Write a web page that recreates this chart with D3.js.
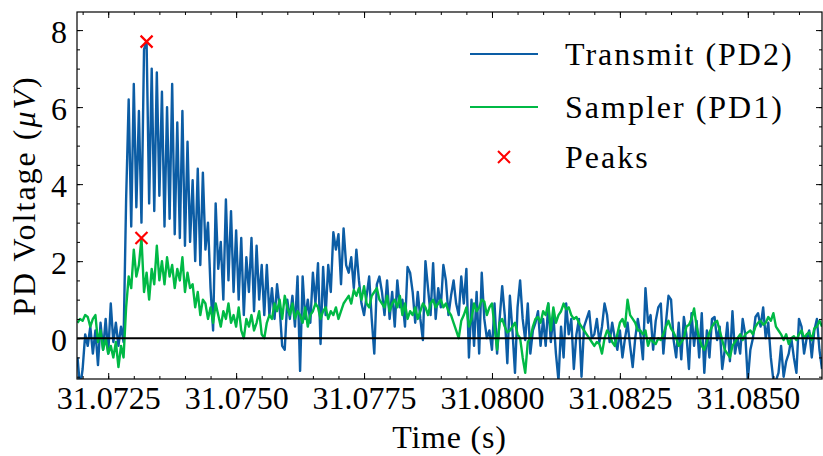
<!DOCTYPE html>
<html>
<head>
<meta charset="utf-8">
<script src="https://cdn.jsdelivr.net/npm/d3@7"></script>
<style>
  body { margin: 0; background: #fff; }
  svg { display: block; }
  text { font-family: "Liberation Serif", "Times New Roman", serif; fill: #000; }
</style>
</head>
<body>
<svg id="chart" width="823" height="456"></svg>
<script>
// Acquisition grid: both photodiodes are sampled on the same clock.
const sampleStart = 31.0719;   // s
const samplePeriod = 5e-5;     // s

// Transmit photodiode (PD2), µV
const transmit = [
  -0.5, -1.3, -0.8, 0.1, -0.2, 0.3, -0.4, 0.2, -0.7, 0.4,
  -0.3, 0.5, -0.4, 0.9, -0.1, 0.4, -0.2, 0.3, -0.1, 3.6,
  6.2, 2.9, 6.6, 3.4, 5.9, 3.0, 7.5, 7.7, 3.5, 7.0,
  3.3, 6.9, 3.7, 6.4, 2.9, 6.0, 3.1, 6.6, 2.7, 5.6,
  2.6, 5.9, 2.4, 5.1, 2.5, 4.1, 2.0, 4.4, 1.9, 4.3,
  2.3, 3.0, 1.3, 0.2, 3.5, 1.8, 2.5, 1.0, 3.6, 1.5,
  3.3, 1.2, 2.8, 1.0, 2.6, 0.6, 2.1, 1.2, 2.6, 0.7,
  2.4, 1.0, 1.9, 0.6, 1.9, 0.6, 1.3, 0.5, 1.4, 0.8,
  -0.2, -0.3, 1.0, 0.5, 1.1, 0.3, 1.6, -0.85, 1.6, 0.5,
  1.0, 0.4, 1.7, 0.9, 1.95, -0.15, 1.85, 0.6, 1.9, 1.2,
  2.75, 2.3, 2.7, 1.4, 2.85, 1.9, 1.7, 2.1, 1.3, 2.3,
  1.5, 0.9, 0.6, 1.1, 1.6, 0.5, -0.4, 1.4, 1.6, 1.2,
  0.6, 1.5, 0.5, 1.2, 0.3, 1.5, 0.8, 1.0, 0.3, 1.85,
  1.7, 1.2, 0.4, 1.2, 0.5, -0.05, 2.0, 1.3, 0.6, 1.95,
  0.5, 1.3, 0.8, 1.9, 1.5, 0.6, 1.1, 1.5, 0.9, 0.6,
  1.6, 0.9, 1.8, -0.5, 1.0, -0.2, 1.2, -0.4, 1.7, 0.5,
  0.0, 0.2, -0.3, 0.9, -0.4, 0.5, 1.35, 0.6, -0.65, 1.1,
  0.2, -0.9, 0.8, 1.5, 0.5, -0.05, 0.9, -0.4, 0.2, 0.4,
  0.7, -0.2, 0.5, -0.2, 0.9, -0.1, 0.6, -0.4, -1.1, 0.3,
  -0.5, 0.9, 0.1, 0.5, -0.8, 0.1, 0.5, -1.0, 0.3, 0.5,
  0.7, 0.0, 0.1, 0.5, -0.1, 0.3, 0.9, 0.6, -0.1, 0.4,
  0.0, -0.3, 0.2, -0.5, 0.0, 0.4, -0.2, -0.75, 0.0, 0.5,
  0.1, -0.55, 1.3, 0.4, 0.6, -0.3, 0.45, 0.8, 0.9, -0.4,
  0.4, 1.1, 1.0, -0.05, -0.5, 0.4, -0.55, 0.55, 0.1, -0.8,
  0.65, -0.2, 0.45, -0.5, 0.65, -0.9, 0.2, -0.5, 0.5, 0.55,
  -0.05, 0.3, -0.8, -0.3, 0.4, -0.6, 0.7, -0.4, 0.0, -0.4,
  0.5, 0.1, -1.1, -0.3, 0.0, 0.55, 0.65, 0.3, 0.8, 0.0,
  0.4, -0.5, -1.1, -1.1, -0.9, -0.2, -1.0, -0.6, -0.4, 0.0,
  -0.5, -0.9, 0.5, 0.3, -0.4, 0.0, 0.2, -0.5, 0.2, 0.5,
  -0.3, -0.8
];

// Sampler photodiode (PD1), µV
const sampler = [
  0.4, 0.5, 0.45, 0.6, 0.55, 0.3, 0.5, 0.6, -0.1, 0.2,
  -0.3, 0.0, -0.4, -0.2, -0.5, -0.1, -0.75, -0.2, -0.5, 0.8,
  1.6, 1.3, 2.3, 1.6, 1.9, 2.6, 1.2, 1.7, 1.0, 1.8,
  1.4, 2.4, 1.5, 2.0, 1.4, 2.1, 1.6, 1.9, 1.3, 1.8,
  1.5, 2.1, 1.2, 1.7, 1.3, 1.4, 0.8, 1.2, 0.6, 1.0,
  0.9, 0.5, 0.8, 0.4, 0.9, 0.6, 0.3, 0.7, 0.5, 0.9,
  0.4, 0.6, 0.3, 0.8, 0.2, 0.0, 0.5, 0.3, 0.6, 0.2,
  0.4, 0.7, 0.1, 0.0, 0.4, 0.6, 0.5, 0.9, 0.7, 1.0,
  0.5, 1.1, 0.8, 0.6, 0.9, 0.5, 0.7, 0.6, 0.4, 0.8,
  0.3, 0.6, 0.7, 0.9, 0.8, 0.5, 0.7, 0.8, 0.5, 0.7,
  0.6, 0.8, 0.5, 0.7, 0.9, 1.0, 1.1, 0.9, 1.25, 1.1,
  1.3, 1.0, 1.35, 0.9, 0.8, 1.1, 1.2, 1.3, 1.0, 0.9,
  0.8, 1.1, 0.7, 0.9, 1.0, 0.8, 1.1, 0.6, 0.9, 0.5,
  0.7, 0.6, 0.8, 0.5, 0.7, 0.9, 0.8, 0.6, 0.9, 1.0,
  0.8, 0.9, 1.0, 0.8, 0.9, 0.7, 0.6, 0.4, 0.2, 0.0,
  0.45, 0.6, 0.8, 0.3, 0.5, 0.9, 0.7, 0.8, 1.0, 0.95,
  0.6, 0.8, 0.9, 0.3, -0.3, 0.4, 0.5, 0.3, 0.15, 0.2,
  0.3, 0.4, 0.1, 0.0, -0.5, -0.9, -0.1, 0.0, 0.3, 0.5,
  0.55, 0.4, 0.7, 0.6, 0.9, 0.2, 0.8, 0.4, 0.6, 0.7,
  0.9, 0.75, 0.8, 0.6, 0.5, 0.55, 0.4, 0.3, 0.2, 0.1,
  0.0, -0.1, -0.2, -0.1, -0.15, -0.4, 0.0, 0.2, 0.1, -0.1,
  -0.2, 0.1, 0.4, 0.5, 0.3, 1.0, 0.6, 0.5, 0.4, 0.2,
  0.2, 0.1, 0.2, -0.2, 0.0, -0.1, -0.15, 0.0, -0.05, 0.1,
  0.3, 0.45, 0.25, 0.15, 0.0, -0.2, -0.1, 0.0, 0.3, 0.35,
  0.5, 0.77, 0.3, 0.0, -0.2, -0.3, -0.1, 0.15, 0.3, 0.4,
  0.45, 0.2, -0.05, -0.3, -0.4, -0.5, -0.2, -0.1, 0.0, 0.1,
  -0.05, 0.1, 0.15, 0.2, 0.1, 0.3, 0.4, 0.45, 0.35, 0.4,
  0.55, 0.45, 0.65, 0.3, 0.2, 0.1, -0.05, 0.1, -0.15, 0.0,
  0.05, -0.05, 0.1, 0.2, 0.0, 0.1, 0.15, -0.05, 0.25, 0.3,
  0.45, 0.3
];

// Detected pulse maxima (transmit, sampler)
const peakTimes = [31.07325, 31.07315];
const peakValues = [7.7, 2.6];

const xTicks = [31.0725, 31.0750, 31.0775, 31.0800, 31.0825, 31.0850];
const yTicks = [0, 2, 4, 6, 8];
const seriesNames = ["Transmit (PD2)", "Sampler (PD1)"];
const peakName = "Peaks";
const xTitle = "Time (s)";

const colors = { transmit: "#0C5DA5", sampler: "#00B945", peak: "#FF0000" };

const svg = d3.select("#chart");
const plot = { left: 77, right: 822, top: 12, bottom: 379 };

const x = d3.scaleLinear().domain([31.07189, 31.08645]).range([plot.left, plot.right]);
const y = d3.scaleLinear().domain([-1.06, 8.47]).range([plot.bottom, plot.top]);

svg.append("defs").append("clipPath").attr("id", "plot-clip")
  .append("rect")
  .attr("x", plot.left).attr("y", plot.top)
  .attr("width", plot.right - plot.left).attr("height", plot.bottom - plot.top);

const sampleTime = i => sampleStart + i * samplePeriod;
const line = d3.line()
  .x((d, i) => x(sampleTime(i)))
  .y(d => y(d))
  .curve(d3.curveLinear);

const data = svg.append("g").attr("clip-path", "url(#plot-clip)");

data.append("path").datum(transmit)
  .attr("d", line).attr("fill", "none")
  .attr("stroke", colors.transmit).attr("stroke-width", 2.4)
  .attr("stroke-linejoin", "round");

data.append("path").datum(sampler)
  .attr("d", line).attr("fill", "none")
  .attr("stroke", colors.sampler).attr("stroke-width", 2.4)
  .attr("stroke-linejoin", "round");

const cross = "M-6,-6L6,6M6,-6L-6,6";
data.selectAll(".peak").data(peakTimes).join("path")
  .attr("class", "peak")
  .attr("transform", (d, i) => `translate(${x(d)},${y(peakValues[i])})`)
  .attr("d", cross)
  .attr("stroke", colors.peak).attr("stroke-width", 2.2);

// zero reference
data.append("line")
  .attr("x1", plot.left).attr("x2", plot.right)
  .attr("y1", y(0)).attr("y2", y(0))
  .attr("stroke", "#000").attr("stroke-width", 2);

// ---- axes: inward ticks on all four sides ----
const xMinor = d3.range(Math.ceil(x.domain()[0] / 0.0005), Math.floor(x.domain()[1] / 0.0005) + 1)
  .map(k => k * 0.0005);
const yMinor = d3.range(Math.ceil(y.domain()[0] / 0.5), Math.floor(y.domain()[1] / 0.5) + 1)
  .map(k => k * 0.5);

function styleAxis(g) {
  g.select(".domain").remove();
  g.selectAll(".tick line").attr("stroke", "#000").attr("stroke-width", 1);
  g.selectAll(".tick text").attr("font-size", 32).attr("fill", "#000")
    .attr("font-family", '"Liberation Serif", serif');
}

// bottom
svg.append("g").attr("transform", `translate(0,${plot.bottom})`)
  .call(d3.axisBottom(x).tickValues(xMinor).tickSize(-3).tickFormat(""))
  .call(styleAxis);
svg.append("g").attr("transform", `translate(0,${plot.bottom})`)
  .call(d3.axisBottom(x).tickValues(xTicks).tickSize(-6).tickPadding(7).tickFormat(d3.format(".4f")))
  .call(styleAxis);
// top
svg.append("g").attr("transform", `translate(0,${plot.top})`)
  .call(d3.axisTop(x).tickValues(xMinor).tickSize(-3).tickFormat(""))
  .call(styleAxis);
svg.append("g").attr("transform", `translate(0,${plot.top})`)
  .call(d3.axisTop(x).tickValues(xTicks).tickSize(-6).tickFormat(""))
  .call(styleAxis);
// left
svg.append("g").attr("transform", `translate(${plot.left},0)`)
  .call(d3.axisLeft(y).tickValues(yMinor).tickSize(-3).tickFormat(""))
  .call(styleAxis);
svg.append("g").attr("transform", `translate(${plot.left},0)`)
  .call(d3.axisLeft(y).tickValues(yTicks).tickSize(-6).tickPadding(10).tickFormat(d3.format("d")))
  .call(styleAxis)
  .call(g => g.selectAll(".tick text").attr("dy", "0.4em"));
// right
svg.append("g").attr("transform", `translate(${plot.right},0)`)
  .call(d3.axisRight(y).tickValues(yMinor).tickSize(-3).tickFormat(""))
  .call(styleAxis);
svg.append("g").attr("transform", `translate(${plot.right},0)`)
  .call(d3.axisRight(y).tickValues(yTicks).tickSize(-6).tickFormat(""))
  .call(styleAxis);

// frame
svg.append("rect")
  .attr("x", plot.left).attr("y", plot.top)
  .attr("width", plot.right - plot.left).attr("height", plot.bottom - plot.top)
  .attr("fill", "none").attr("stroke", "#000").attr("stroke-width", 1.2);

// axis titles
svg.append("text")
  .attr("x", (plot.left + plot.right) / 2).attr("y", 448)
  .attr("text-anchor", "middle").attr("font-size", 32)
  .attr("letter-spacing", 0.8)
  .text(xTitle);

const yTitle = svg.append("text")
  .attr("transform", `translate(35,${(plot.top + plot.bottom) / 2}) rotate(-90)`)
  .attr("text-anchor", "middle").attr("font-size", 32)
  .attr("letter-spacing", 2);
yTitle.append("tspan").text("PD Voltage (");
yTitle.append("tspan").attr("font-style", "italic").text("μV");
yTitle.append("tspan").text(")");

// legend
const legend = svg.append("g");
const legendRows = [
  { name: seriesNames[0], kind: "line", color: colors.transmit, y: 54 },
  { name: seriesNames[1], kind: "line", color: colors.sampler, y: 107 },
  { name: peakName, kind: "cross", color: colors.peak, y: 157 }
];
legendRows.forEach(r => {
  if (r.kind === "line") {
    legend.append("line")
      .attr("x1", 470).attr("x2", 538).attr("y1", r.y).attr("y2", r.y)
      .attr("stroke", r.color).attr("stroke-width", 2);
  } else {
    legend.append("path")
      .attr("transform", `translate(504,${r.y})`)
      .attr("d", cross).attr("stroke", r.color).attr("stroke-width", 2);
  }
  legend.append("text")
    .attr("x", 565).attr("y", r.y + 11)
    .attr("font-size", 32).attr("letter-spacing", 2)
    .text(r.name);
});
</script>
</body>
</html>
